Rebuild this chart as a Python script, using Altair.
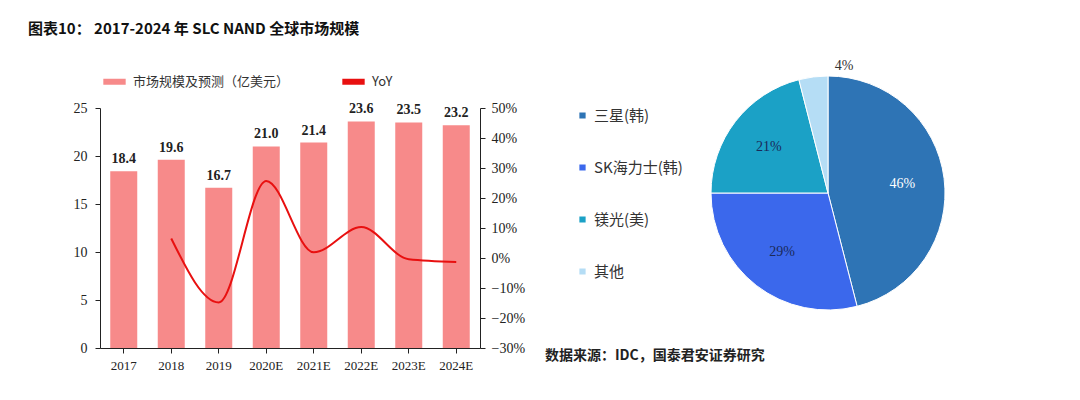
import altair as alt
import pandas as pd

years = ["2017", "2018", "2019", "2020E", "2021E", "2022E", "2023E", "2024E"]
market = [18.4, 19.6, 16.7, 21.0, 21.4, 23.6, 23.5, 23.2]
yoy = [None, 0.065, -0.148, 0.257, 0.019, 0.103, -0.004, -0.013]

vendors = ["三星(韩)", "SK海力士(韩)", "镁光(美)", "其他"]
shares = [0.46, 0.29, 0.21, 0.04]
vendor_colors = ["#2e74b5", "#3b68ec", "#1ba1c6", "#b5ddf5"]

SERIF = "Liberation Serif"
CJK = "Noto Sans CJK SC"

bar_name = "市场规模及预测（亿美元）"
df = pd.DataFrame({"year": years, "market": market, "yoy": yoy})
df["s_bar"] = bar_name
df["s_line"] = "YoY"
df["label"] = [f"{v:.1f}" for v in market]

color = alt.Color("s:N", scale=alt.Scale(domain=[bar_name, "YoY"], range=["#f78a8a", "#e81010"]),
                  legend=alt.Legend(orient="top", title=None, direction="horizontal", labelFont=CJK,
                                    labelFontSize=13, labelColor="#333", symbolType="stroke",
                                    symbolStrokeWidth=6, symbolSize=500, columnPadding=40, offset=14,
                                    labelLimit=300))

x = alt.X("year:N", sort=years, title=None,
          axis=alt.Axis(labelAngle=0, labelFont=SERIF, labelFontSize=13, labelColor="#222",
                        domainColor="#222", tickColor="#222", labelPadding=6))
yl = alt.Y("market:Q", scale=alt.Scale(domain=[0, 25]), title=None,
           axis=alt.Axis(values=[0, 5, 10, 15, 20, 25], grid=False, labelFont=SERIF, labelFontSize=14,
                         labelColor="#222", domainColor="#222", tickColor="#222", labelPadding=8))

bars = alt.Chart(df).transform_calculate(s="datum.s_bar").mark_bar(size=27).encode(x=x, y=yl, color=color)
labels = alt.Chart(df).mark_text(dy=-12, font=SERIF, fontSize=14, fontWeight="bold", color="#222").encode(
    x=x, y=yl, text="label:N")
base_left = alt.layer(bars, labels)

line = alt.Chart(df).transform_filter("datum.yoy != null").transform_calculate(s="datum.s_line").mark_line(
    interpolate="monotone", strokeWidth=2).encode(
    x=x,
    y=alt.Y("yoy:Q", scale=alt.Scale(domain=[-0.3, 0.5]), title=None,
            axis=alt.Axis(orient="right", format=".0%", values=[-0.3, -0.2, -0.1, 0, 0.1, 0.2, 0.3, 0.4, 0.5],
                          grid=False, labelFont=SERIF, labelFontSize=14, labelColor="#222",
                          domainColor="#222", tickColor="#222", labelPadding=6)),
    color=color)

left = alt.layer(base_left, line).resolve_scale(y="independent").properties(
    width=380, height=240,
    title=alt.TitleParams("图表10：  2017-2024 年 SLC NAND  全球市场规模", font=CJK, fontSize=15,
                          fontWeight="bold", color="#111", anchor="start", offset=30, dx=-45))

pie_df = pd.DataFrame({"vendor": vendors, "share": shares, "order": [0, 1, 2, 3]})
pie_df["label"] = [f"{round(v*100)}%" for v in shares]
pie_df["lc"] = ["#ffffff", "#1a2a5a", "#1a2a5a", "#333333"]
pie_df["r"] = [75, 75, 75, 128]

theta = alt.Theta("share:Q", stack=True)
arcs = alt.Chart(pie_df).mark_arc(outerRadius=117, stroke="white", strokeWidth=1).encode(
    theta=theta, order="order:Q",
    color=alt.Color("vendor:N", sort=vendors, scale=alt.Scale(domain=vendors, range=vendor_colors),
                    legend=alt.Legend(orient="left", offset=25, title=None, symbolType="square",
                                      symbolSize=60, labelFont=CJK, labelFontSize=15, labelColor="#333",
                                      rowPadding=36)))
texts = alt.Chart(pie_df).mark_text(font=SERIF, fontSize=14).encode(
    theta=theta, order="order:Q", radius=alt.Radius("r:Q", scale=None), text="label:N",
    color=alt.Color("lc:N", scale=None))
right = alt.layer(arcs, texts).properties(
    width=240, height=170,
    title=alt.TitleParams("数据来源：IDC，国泰君安证券研究", orient="bottom", anchor="start", font=CJK,
                          fontSize=14, fontWeight="bold", color="#222", dx=-30, offset=37))

chart = alt.hconcat(left, right).resolve_scale(color="independent").configure_view(
    stroke=None).configure_concat(spacing=20).properties(
    padding={"left": 20, "top": 14, "right": 5, "bottom": 5})

chart.save("out.html", embed_options={"renderer": "svg", "actions": False})
